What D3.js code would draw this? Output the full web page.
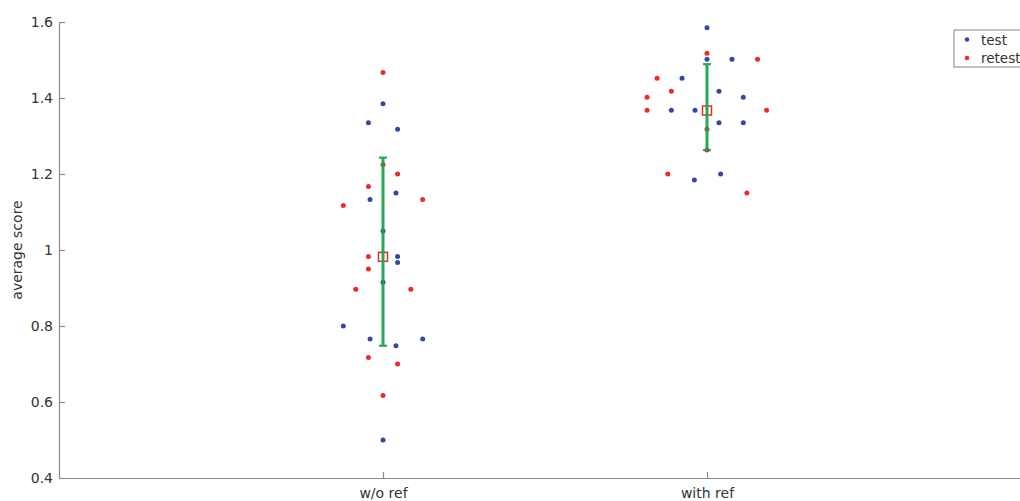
<!DOCTYPE html>
<html>
<head>
<meta charset="utf-8">
<script src="https://cdn.jsdelivr.net/npm/d3@7"></script>
<style>
  body { margin: 0; background: #fff; }
  text { font-family: "DejaVu Sans", sans-serif; fill: #333; }
</style>
</head>
<body>
<div class="chart"></div>
<script>
// data
var categories = ["w/o ref", "with ref"];
var yTicks = [0.4, 0.6, 0.8, 1, 1.2, 1.4, 1.6];

// w/o ref, test (blue) and retest (red); jitter is the horizontal offset in category units
var woTest = [1.385, 1.335, 1.318, 1.15, 1.133, 1.05, 0.983, 0.967, 0.915, 0.8, 0.766, 0.766, 0.748, 0.5];
var woTestJitter = [0, -0.045, 0.045, 0.04, -0.04, 0, 0.045, 0.045, 0, -0.1225, -0.04, 0.1225, 0.04, 0];
var woRetest = [1.467, 1.225, 1.2, 1.167, 1.133, 1.117, 0.983, 0.95, 0.897, 0.897, 0.717, 0.7, 0.617];
var woRetestJitter = [0, 0, 0.045, -0.045, 0.1225, -0.1225, -0.045, -0.045, -0.084, 0.086, -0.045, 0.045, 0];

// with ref
var withTest = [1.585, 1.502, 1.502, 1.452, 1.418, 1.402, 1.368, 1.368, 1.335, 1.335, 1.2, 1.184];
var withTestJitter = [0, 0, 0.077, -0.077, 0.037, 0.112, -0.11, -0.037, 0.037, 0.112, 0.042, -0.039];
var withRetest = [1.518, 1.502, 1.452, 1.418, 1.402, 1.368, 1.368, 1.318, 1.263, 1.2, 1.15];
var withRetestJitter = [0, 0.156, -0.154, -0.11, -0.185, -0.185, 0.184, 0, 0, -0.121, 0.123];

// mean and error bar ends
var means = [0.982, 1.367];
var lower = [0.748, 1.263];
var upper = [1.243, 1.489];

var svgWidth = 1020;
var svgHeight = 501;

var svg = d3.select(".chart")
    .append("svg")
    .attr("width", svgWidth)
    .attr("height", svgHeight);

var xScale = d3.scaleLinear().domain([0, 3]).range([59, 1031]);
var yScale = d3.scaleLinear().domain([0.4, 1.6]).range([478, 22]);

var blue = "#3646a6";
var red = "#ee2b2b";
var green = "#18a24a";
var axisColor = "#8a8a8a";

// axes
var leftAxis = d3.axisLeft(yScale)
    .tickValues(yTicks)
    .tickFormat(function(d) { return String(+d.toFixed(1)); })
    .tickSizeInner(-6)
    .tickSizeOuter(0)
    .tickPadding(6);

var bottomAxis = d3.axisBottom(xScale)
    .tickValues([1, 2])
    .tickFormat(function(d) { return categories[d - 1]; })
    .tickSizeInner(-6)
    .tickSizeOuter(0)
    .tickPadding(10);

var gy = svg.append("g")
    .attr("transform", "translate(" + xScale(0) + ",0)")
    .call(leftAxis);

var gx = svg.append("g")
    .attr("transform", "translate(0," + yScale(0.4) + ")")
    .call(bottomAxis);

[gx, gy].forEach(function(g) {
    g.select(".domain").attr("stroke", axisColor).attr("stroke-width", 1.2);
    g.selectAll(".tick line").attr("stroke", axisColor).attr("stroke-width", 1.2);
    g.selectAll(".tick text")
        .attr("fill", "#333")
        .style("font-family", "DejaVu Sans, sans-serif")
        .style("font-size", "14px");
});

// y axis label
svg.append("text")
    .attr("transform", "translate(22," + 250 + ") rotate(-90)")
    .attr("text-anchor", "middle")
    .style("font-size", "14px")
    .text("average score");

// scatter points
function drawGroup(values, jitter, cat, color) {
    svg.append("g").selectAll("circle")
        .data(values)
        .enter()
        .append("circle")
        .attr("cx", function(d, i) { return xScale(cat + jitter[i]); })
        .attr("cy", function(d) { return yScale(d); })
        .attr("r", 2.5)
        .attr("fill", color);
}

drawGroup(woTest, woTestJitter, 1, blue);
drawGroup(woRetest, woRetestJitter, 1, red);
drawGroup(withTest, withTestJitter, 2, blue);
drawGroup(withRetest, withRetestJitter, 2, red);

// mean box
var boxSize = 9;
svg.append("g").selectAll("rect")
    .data(means)
    .enter()
    .append("rect")
    .attr("x", function(d, i) { return xScale(i + 1) - boxSize / 2; })
    .attr("y", function(d) { return yScale(d) - boxSize / 2; })
    .attr("width", boxSize)
    .attr("height", boxSize)
    .attr("fill", "none")
    .attr("stroke", red)
    .attr("stroke-width", 1.5);

// error bars
var bars = svg.append("g")
    .attr("stroke", green)
    .attr("opacity", 0.92);

bars.selectAll(".stem")
    .data(means)
    .enter()
    .append("line")
    .attr("class", "stem")
    .attr("x1", function(d, i) { return xScale(i + 1); })
    .attr("x2", function(d, i) { return xScale(i + 1); })
    .attr("y1", function(d, i) { return yScale(lower[i]); })
    .attr("y2", function(d, i) { return yScale(upper[i]); })
    .attr("stroke-width", 3);

[lower, upper].forEach(function(ends) {
    bars.append("g").selectAll("line")
        .data(ends)
        .enter()
        .append("line")
        .attr("x1", function(d, i) { return xScale(i + 1) - 4; })
        .attr("x2", function(d, i) { return xScale(i + 1) + 4; })
        .attr("y1", function(d) { return yScale(d); })
        .attr("y2", function(d) { return yScale(d); })
        .attr("stroke-width", 2.2);
});

// legend
var legend = svg.append("g").attr("transform", "translate(954,30)");
legend.append("rect")
    .attr("width", 90)
    .attr("height", 37)
    .attr("fill", "#fff")
    .attr("stroke", "#999")
    .attr("stroke-width", 1.2);

var legendItems = [["test", blue], ["retest", red]];
legendItems.forEach(function(item, i) {
    legend.append("circle")
        .attr("cx", 13)
        .attr("cy", 9.5 + i * 18.5)
        .attr("r", 2.3)
        .attr("fill", item[1]);
    legend.append("text")
        .attr("x", 27)
        .attr("y", 10 + i * 18.5)
        .attr("dy", "0.35em")
        .style("font-size", "13.5px")
        .text(item[0]);
});
</script>
</body>
</html>
